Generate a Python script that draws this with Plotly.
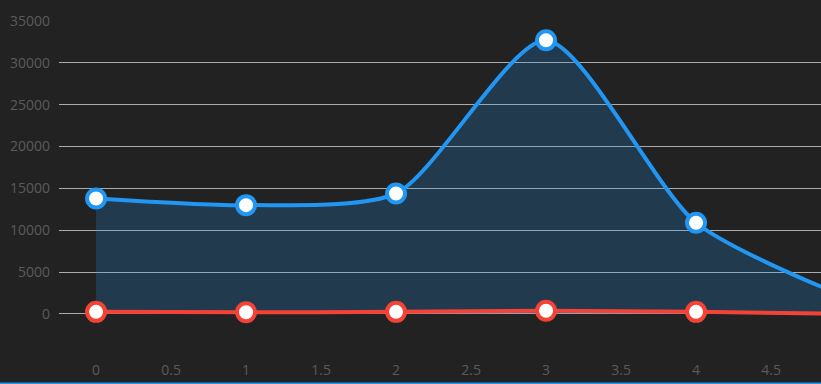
import plotly.graph_objects as go

x_values = [0, 1, 2, 3, 4, 5]
series_blue = [13800, 13000, 14400, 32700, 10900, 2000]
series_red = [250, 200, 250, 380, 250, 20]
y_ticks = [0, 5000, 10000, 15000, 20000, 25000, 30000, 35000]
x_ticks = [0, 0.5, 1, 1.5, 2, 2.5, 3, 3.5, 4, 4.5]

BLUE = "#2196F3"
RED = "#F44336"
BG = "#222222"

fig = go.Figure()
fig.add_trace(go.Scatter(
    x=x_values, y=series_blue, mode="lines+markers",
    line=dict(color=BLUE, width=4, shape="spline", smoothing=0.7),
    fill="tozeroy", fillcolor="rgba(33,150,243,0.21)",
    marker=dict(size=18, color="white", line=dict(color=BLUE, width=4)),
    showlegend=False, hoverinfo="skip",
))
fig.add_trace(go.Scatter(
    x=x_values, y=series_red, mode="lines+markers",
    line=dict(color=RED, width=4, shape="spline", smoothing=0.7),
    marker=dict(size=18, color="white", line=dict(color=RED, width=4)),
    showlegend=False, hoverinfo="skip",
))

fig.update_layout(
    width=821, height=384,
    margin=dict(l=59, r=0, t=21, b=24),
    paper_bgcolor=BG, plot_bgcolor=BG,
    font=dict(family="Open Sans, Noto Sans, sans-serif", size=14, color="#5a5a5a"),
    xaxis=dict(range=[-0.247, 4.833], tickvals=x_ticks, showgrid=False,
               zeroline=False, showline=False, ticks="", fixedrange=True),
    yaxis=dict(range=[-5500, 35000], tickvals=y_ticks, tickformat="d",
               showgrid=True, gridcolor="#ababab", gridwidth=1, zeroline=False,
               showline=False, ticks="", ticklabelstandoff=8, fixedrange=True),
    shapes=[dict(type="line", xref="paper", yref="paper", x0=-0.1, x1=1.1,
                 y0=-23.2/339, y1=-23.2/339, line=dict(color=BLUE, width=1.6))],
)

fig.write_html(
    "out.html",
    config={"displayModeBar": False},
    post_script="document.body.style.margin='0';document.body.style.overflow='hidden';",
)
